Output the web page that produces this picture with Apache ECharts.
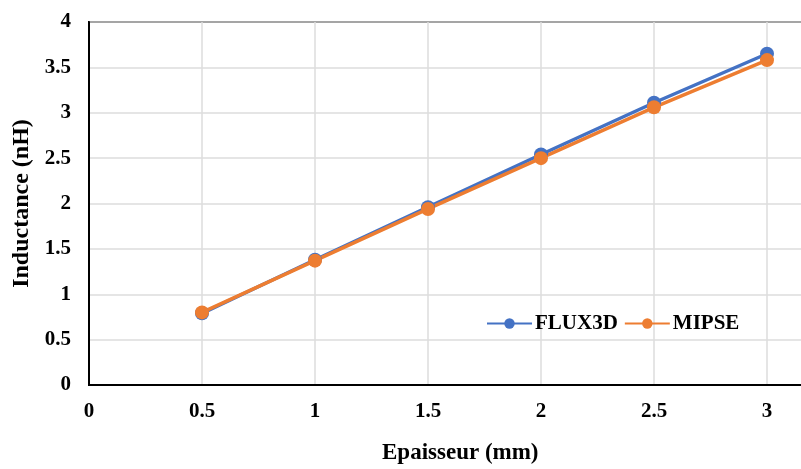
<!DOCTYPE html>
<html>
<head>
<meta charset="utf-8">
<script src="https://cdn.jsdelivr.net/npm/echarts@6/dist/echarts.min.js"></script>
<style>html,body{margin:0;padding:0;background:#fff}#c{width:801px;height:469px}</style>
</head>
<body>
<div id="c"></div>
<script>
const thickness = [0.5, 1, 1.5, 2, 2.5, 3];
const flux3d = [0.79, 1.38, 1.96, 2.54, 3.11, 3.65];
const mipse = [0.80, 1.37, 1.94, 2.50, 3.06, 3.58];
const seriesNames = ['FLUX3D', 'MIPSE'];
const xTitle = 'Epaisseur (mm)';
const yTitle = 'Inductance (nH)';

const font = '"Liberation Serif", "Times New Roman", serif';
const chart = echarts.init(document.getElementById('c'));
const pair = (xs, ys) => xs.map((x, i) => [x, ys[i]]);
chart.setOption({
  animation: false,
  backgroundColor: '#fff',
  grid: { left: 89, top: 22, width: 791, height: 363, outerBoundsMode: 'none', containLabel: false,
          show: true, borderColor: '#000', borderWidth: 2, backgroundColor: 'transparent' },
  legend: {
    left: 481, top: 308,
    itemWidth: 45, itemHeight: 13, itemGap: 6,
    textStyle: { fontFamily: font, fontWeight: 'bold', fontSize: 21, color: '#000', padding: [0, 0, 0, -2] },
    data: seriesNames
  },
  xAxis: {
    type: 'value', min: 0, max: 3.5, interval: 0.5,
    axisLine: { show: true, onZero: false, lineStyle: { color: '#000', width: 2 } },
    axisTick: { show: false },
    splitLine: { show: true, lineStyle: { color: '#dcdcdc', width: 1.5 } },
    axisLabel: { margin: 16, fontFamily: font, fontWeight: 'bold', fontSize: 21, color: '#000' }
  },
  yAxis: {
    type: 'value', min: 0, max: 4, interval: 0.5,
    axisLine: { show: true, lineStyle: { color: '#000', width: 2 } },
    axisTick: { show: false },
    splitLine: { show: true, lineStyle: { color: '#dcdcdc', width: 1.5 } },
    axisLabel: { margin: 18, fontFamily: font, fontWeight: 'bold', fontSize: 21, color: '#000' },
    name: yTitle, nameLocation: 'middle', nameGap: 50,
    nameTextStyle: { fontFamily: font, fontWeight: 'bold', fontSize: 24, color: '#000' }
  },
  graphic: [{
    type: 'text', left: 382, top: 442,
    style: { text: xTitle, font: 'bold 23px ' + font, fill: '#000' }
  }],
  series: [
    { name: seriesNames[0], type: 'line', data: pair(thickness, flux3d), symbol: 'circle', symbolSize: 14,
      lineStyle: { color: '#4472C4', width: 3.5 }, itemStyle: { color: '#4472C4' } },
    { name: seriesNames[1], type: 'line', data: pair(thickness, mipse), symbol: 'circle', symbolSize: 14,
      lineStyle: { color: '#ED7D31', width: 3.5 }, itemStyle: { color: '#ED7D31' } }
  ]
});
</script>
</body>
</html>
